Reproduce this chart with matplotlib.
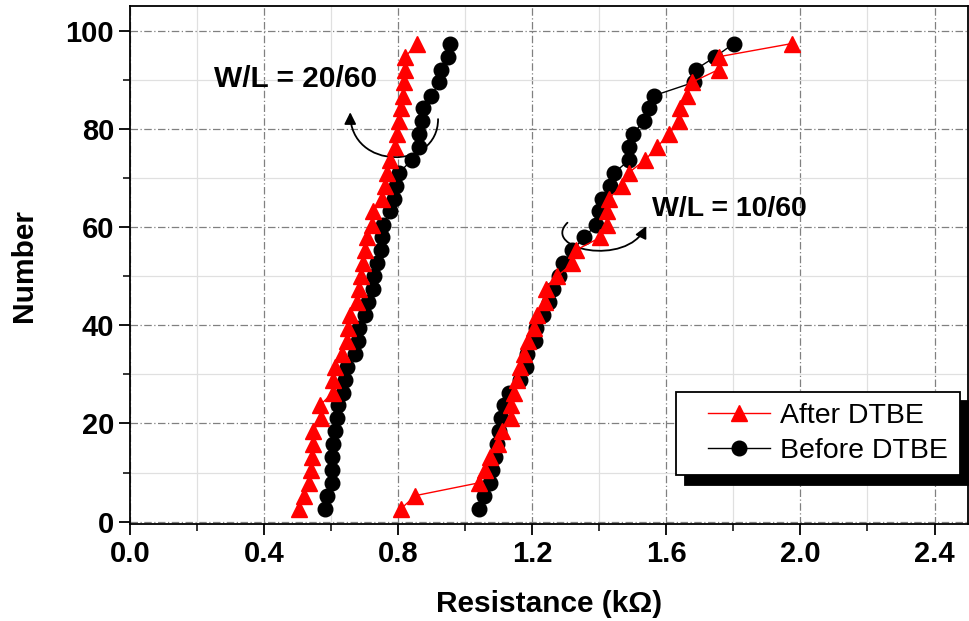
import matplotlib.pyplot as plt
from matplotlib.lines import Line2D
from matplotlib.legend_handler import HandlerLine2D
from matplotlib.patches import FancyArrowPatch
from matplotlib.path import Path
from matplotlib.ticker import MultipleLocator

plt.rcParams['font.family'] = ['Liberation Sans', 'DejaVu Sans']

# cumulative count (same for every series)
number = [2.6, 5.3, 7.9, 10.5, 13.2, 15.8, 18.4, 21.1, 23.7, 26.3, 28.9, 31.6,
          34.2, 36.8, 39.5, 42.1, 44.7, 47.4, 50.0, 52.6, 55.3, 57.9, 60.5,
          63.2, 65.8, 68.4, 71.1, 73.7, 76.3, 78.9, 81.6, 84.2, 86.8, 89.5,
          92.1, 94.7, 97.4]

# W/L = 20/60
before_20 = [0.582, 0.587, 0.602, 0.602, 0.602, 0.605, 0.612, 0.617, 0.622,
             0.635, 0.642, 0.647, 0.672, 0.680, 0.682, 0.700, 0.711, 0.724,
             0.729, 0.736, 0.749, 0.751, 0.756, 0.776, 0.788, 0.794, 0.803,
             0.841, 0.863, 0.863, 0.871, 0.873, 0.899, 0.923, 0.927, 0.950,
             0.955]
after_20 = [0.505, 0.519, 0.534, 0.539, 0.542, 0.545, 0.547, 0.569, 0.567,
            0.605, 0.607, 0.612, 0.632, 0.647, 0.649, 0.657, 0.677, 0.682,
            0.690, 0.695, 0.701, 0.708, 0.721, 0.726, 0.751, 0.761, 0.768,
            0.776, 0.790, 0.798, 0.802, 0.808, 0.813, 0.818, 0.820, 0.821,
            0.857]

# W/L = 10/60
before_10 = [1.040, 1.055, 1.075, 1.080, 1.088, 1.095, 1.100, 1.108, 1.116,
             1.130, 1.162, 1.180, 1.184, 1.207, 1.210, 1.232, 1.250, 1.263,
             1.280, 1.293, 1.320, 1.355, 1.391, 1.398, 1.408, 1.433, 1.445,
             1.490, 1.490, 1.500, 1.532, 1.547, 1.564, 1.682, 1.687, 1.746,
             1.801]
after_10 = [0.808, 0.851, 1.040, 1.060, 1.075, 1.097, 1.110, 1.136, 1.137,
            1.146, 1.155, 1.162, 1.174, 1.187, 1.206, 1.214, 1.239, 1.240,
            1.274, 1.320, 1.330, 1.403, 1.423, 1.423, 1.428, 1.468, 1.488,
            1.537, 1.572, 1.607, 1.637, 1.642, 1.662, 1.676, 1.756, 1.756,
            1.975]

fig = plt.figure(figsize=(9.7, 6.21), dpi=100)
ax = fig.add_axes([0.134, 0.156, 0.864, 0.834])

black_kw = dict(color='black', marker='o', ms=10.5, lw=1.0)
red_kw = dict(color='red', marker='^', ms=12, lw=1.0)

ax.plot(before_20, number, **black_kw)
ax.plot(before_10, number, label='Before DTBE', **black_kw)
ax.plot(after_20, number, **red_kw)
ax.plot(after_10, number, label='After DTBE', **red_kw)

ax.set_xlim(0, 2.5)
ax.set_ylim(-0.5, 105)
ax.xaxis.set_major_locator(MultipleLocator(0.4))
ax.xaxis.set_minor_locator(MultipleLocator(0.2))
ax.yaxis.set_major_locator(MultipleLocator(20))
ax.yaxis.set_minor_locator(MultipleLocator(10))
ax.xaxis.set_major_formatter(lambda v, p: f'{v:.1f}')

ax.grid(which='major', color='#808080', lw=0.9, ls=(0, (6, 2, 1, 2)))
ax.grid(which='minor', color='#e0e0e0', lw=0.9, ls='-')
ax.set_axisbelow(True)

ax.tick_params(which='major', direction='out', length=8, width=1.3,
               labelsize=21, top=False, right=False)
ax.tick_params(which='minor', direction='out', length=5, width=1.1,
               top=False, right=False)
for lab in ax.get_xticklabels() + ax.get_yticklabels():
    lab.set_fontweight('bold')
for sp in ax.spines.values():
    sp.set_linewidth(1.3)

ax.set_xlabel('Resistance (kΩ)', fontsize=21.5, fontweight='bold', labelpad=16)
ax.set_ylabel('Number', fontsize=21.5, fontweight='bold', labelpad=20)

# annotations with curved arrows
ax.text(0.251, 88.6, 'W/L = 20/60', fontsize=21.5, fontweight='bold',
        ha='left', va='baseline')
ax.text(1.556, 62.2, 'W/L = 10/60', fontsize=20.5, fontweight='bold',
        ha='left', va='baseline')

arc_codes = [Path.MOVETO, Path.CURVE4, Path.CURVE4, Path.CURVE4]
arc_20 = Path([(0.919, 82.0), (0.919, 71.5), (0.657, 71.5), (0.657, 83.4)],
              arc_codes)
arc_10 = Path([(1.305, 60.9), (1.225, 55.5), (1.480, 51.8), (1.540, 60.2)],
              arc_codes)
for arc in (arc_20, arc_10):
    ax.add_patch(FancyArrowPatch(path=arc,
                                 arrowstyle='-|>,head_length=7,head_width=3.5',
                                 color='black', lw=1.3))

handles, labels = ax.get_legend_handles_labels()
leg = ax.legend(handles[::-1], labels[::-1], loc='lower right',
                bbox_to_anchor=(0.99, 0.095), borderaxespad=0,
                fontsize=20.5, fancybox=False, framealpha=1,
                edgecolor='black', handlelength=2.9, handletextpad=0.35,
                borderpad=0.4, labelspacing=0.3,
                handler_map={Line2D: HandlerLine2D(xpad=0.7)},
                shadow={'color': 'black', 'alpha': 1, 'ox': 6, 'oy': -7})
leg.get_frame().set_linewidth(1.3)

fig.savefig('out.png', dpi=100)
